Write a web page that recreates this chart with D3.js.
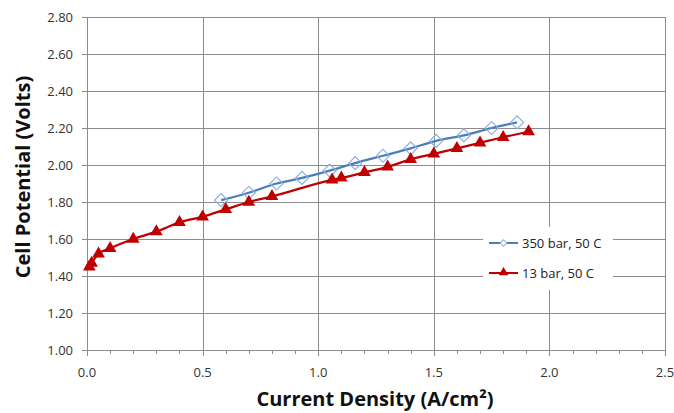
<!DOCTYPE html>
<html>
<head>
<meta charset="utf-8">
<script src="https://cdn.jsdelivr.net/npm/d3@7"></script>
<style>
  body { margin: 0; background: #fff; }
  text { font-family: "Open Sans", sans-serif; }
</style>
</head>
<body>
<svg id="chart" width="674" height="413"></svg>
<script>
// 13 bar, 50 C
const x13 = [0.01, 0.02, 0.05, 0.10, 0.20, 0.30, 0.40, 0.50, 0.60, 0.70, 0.80,
             1.06, 1.10, 1.20, 1.30, 1.40, 1.50, 1.60, 1.70, 1.80, 1.91];
const y13 = [1.45, 1.47, 1.52, 1.55, 1.60, 1.64, 1.69, 1.72, 1.76, 1.80, 1.83,
             1.92, 1.93, 1.96, 1.99, 2.03, 2.06, 2.09, 2.12, 2.15, 2.18];
// 350 bar, 50 C
const x350 = [0.58, 0.70, 0.82, 0.93, 1.05, 1.16, 1.28, 1.40, 1.51, 1.63, 1.75, 1.86];
const y350 = [1.81, 1.85, 1.90, 1.93, 1.97, 2.01, 2.05, 2.09, 2.13, 2.16, 2.20, 2.23];

const xTicks = [0, 0.5, 1.0, 1.5, 2.0, 2.5];
const xMinor = d3.range(0, 26).map(i => i / 10);
const yTicks = [1.0, 1.2, 1.4, 1.6, 1.8, 2.0, 2.2, 2.4, 2.6, 2.8];
const seriesNames = ["350 bar, 50 C", "13 bar, 50 C"];

const svg = d3.select("#chart");
const margin = {top: 17, right: 9, bottom: 63, left: 87};
const width = +svg.attr("width") - margin.left - margin.right;
const height = +svg.attr("height") - margin.top - margin.bottom;
const g = svg.append("g").attr("transform", "translate(" + margin.left + "," + margin.top + ")");

const gridColor = "#8c8c8c";
const blue = "#4a7ebb";
const blueMarker = "#8eb1de";
const red = "#c00000";

const x = d3.scaleLinear().domain([0, 2.5]).range([0, width]);
const y = d3.scaleLinear().domain([1.0, 2.8]).range([height, 0]);

// grid
g.append("g")
  .selectAll("line.h")
  .data(yTicks)
  .join("line")
    .attr("x1", 0).attr("x2", width)
    .attr("y1", d => Math.round(y(d)) + 0.5).attr("y2", d => Math.round(y(d)) + 0.5)
    .attr("stroke", gridColor);

g.append("g")
  .selectAll("line.v")
  .data(xTicks)
  .join("line")
    .attr("x1", d => Math.round(x(d)) + 0.5).attr("x2", d => Math.round(x(d)) + 0.5)
    .attr("y1", 0).attr("y2", height)
    .attr("stroke", gridColor);

// x axis ticks (minor every 0.1)
g.append("g")
  .selectAll("line")
  .data(xMinor)
  .join("line")
    .attr("x1", d => Math.round(x(d)) + 0.5).attr("x2", d => Math.round(x(d)) + 0.5)
    .attr("y1", height).attr("y2", d => height + (Math.abs(d * 2 - Math.round(d * 2)) < 1e-9 ? 6 : 4))
    .attr("stroke", gridColor);

g.append("g")
  .selectAll("line")
  .data(yTicks)
  .join("line")
    .attr("x1", -5).attr("x2", 0)
    .attr("y1", d => Math.round(y(d)) + 0.5).attr("y2", d => Math.round(y(d)) + 0.5)
    .attr("stroke", gridColor);

// tick labels
g.append("g")
  .selectAll("text")
  .data(xTicks)
  .join("text")
    .attr("x", d => x(d))
    .attr("y", height + 27)
    .attr("text-anchor", "middle")
    .attr("font-size", 13)
    .attr("fill", "#333")
    .text(d3.format(".1f"));

g.append("g")
  .selectAll("text")
  .data(yTicks)
  .join("text")
    .attr("x", -14)
    .attr("y", d => y(d))
    .attr("dy", "0.35em")
    .attr("text-anchor", "end")
    .attr("font-size", 13)
    .attr("fill", "#333")
    .text(d3.format(".2f"));

// axis titles
svg.append("text")
  .attr("x", 375)
  .attr("y", 406)
  .attr("text-anchor", "middle")
  .attr("font-size", 20)
  .attr("font-weight", "bold")
  .attr("fill", "#111")
  .text("Current Density (A/cm²)");

svg.append("text")
  .attr("transform", "translate(30,177) rotate(-90)")
  .attr("text-anchor", "middle")
  .attr("font-size", 20)
  .attr("font-weight", "bold")
  .attr("fill", "#111")
  .text("Cell Potential (Volts)");

// legend (white box over the grid)
const legend = g.append("g").attr("transform", "translate(" + (483 - margin.left) + "," + (227 - margin.top) + ")");
legend.append("rect")
  .attr("width", 130).attr("height", 63)
  .attr("fill", "#fff");

const diamond = d3.symbol().type(d3.symbolSquare);
const triangle = d3.symbol().type(d3.symbolTriangle);

const entries = [
  {name: seriesNames[0], color: blue, marker: "diamond"},
  {name: seriesNames[1], color: red, marker: "triangle"}
];
entries.forEach((e, i) => {
  const ly = 16 + i * 30;
  legend.append("line")
    .attr("x1", 6).attr("x2", 35)
    .attr("y1", ly).attr("y2", ly)
    .attr("stroke", e.color).attr("stroke-width", 2);
  if (e.marker == "diamond") {
    legend.append("path")
      .attr("d", diamond.size(22)())
      .attr("transform", "translate(20.5," + ly + ") rotate(45)")
      .attr("fill", "#fff").attr("stroke", blueMarker).attr("stroke-width", 1);
  } else {
    legend.append("path")
      .attr("d", triangle.size(40)())
      .attr("transform", "translate(20.5," + (ly - 0.5) + ")")
      .attr("fill", red);
  }
  legend.append("text")
    .attr("x", 39).attr("y", ly)
    .attr("dy", "0.35em")
    .attr("font-size", 13)
    .attr("fill", "#222")
    .text(e.name);
});

// series
const data350 = x350.map((d, i) => ({x: d, y: y350[i]}));
const data13 = x13.map((d, i) => ({x: d, y: y13[i]}));

const line = d3.line()
  .curve(d3.curveMonotoneX)
  .x(d => x(d.x))
  .y(d => y(d.y));

g.append("path")
  .datum(data350)
  .attr("fill", "none")
  .attr("stroke", blue)
  .attr("stroke-width", 2.25)
  .attr("d", line);

g.append("g")
  .selectAll("path")
  .data(data350)
  .join("path")
    .attr("d", diamond.size(85)())
    .attr("transform", d => "translate(" + x(d.x) + "," + y(d.y) + ") rotate(45)")
    .attr("fill", "none")
    .attr("stroke", blueMarker)
    .attr("stroke-width", 1.2);

g.append("path")
  .datum(data13)
  .attr("fill", "none")
  .attr("stroke", red)
  .attr("stroke-width", 2.25)
  .attr("d", line);

g.append("g")
  .selectAll("path")
  .data(data13)
  .join("path")
    .attr("d", triangle.size(70)())
    .attr("transform", d => "translate(" + x(d.x) + "," + y(d.y) + ")")
    .attr("fill", red);
</script>
</body>
</html>
